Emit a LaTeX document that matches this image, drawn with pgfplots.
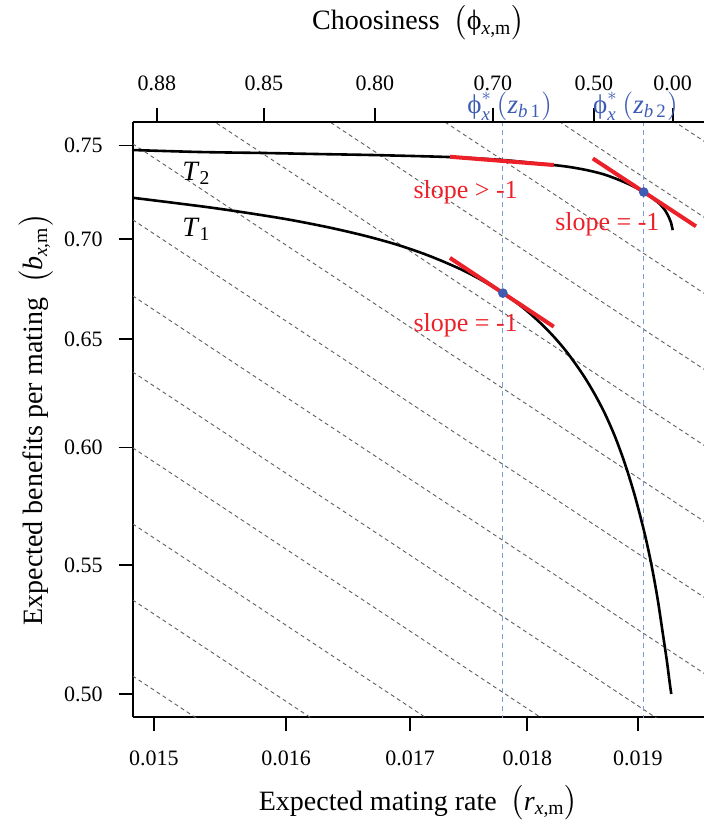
\documentclass[border=0pt]{standalone}
\usepackage{fontspec}
\setmainfont{Liberation Serif}
\usepackage{amsmath}
\usepackage{pgfplots}
\pgfplotsset{compat=1.18}

\definecolor{tanred}{RGB}{236,32,40}
\definecolor{ptblue}{RGB}{62,92,180}
\definecolor{lblue}{RGB}{125,155,220}
\definecolor{isogray}{RGB}{95,95,95}
\newcommand{\fs}[1]{\fontsize{#1}{#1}\selectfont}

\begin{document}
\begin{tikzpicture}
\useasboundingbox (-66.5pt,-54.5pt) rectangle (285.5pt,358.5pt);

% main axis: mating rate vs benefits, log-log
\begin{axis}[
  at={(0,0)}, anchor=south west,
  scale only axis, width=285.5pt, height=297.5pt,
  xmode=log, ymode=log,
  xmin=0.014847, xmax=0.019622, ymin=0.49157, ymax=0.76313,
  axis lines*=left,
  axis line style={line width=0.8pt},
  tick align=outside, major tick length=7.25pt,
  tick style={black, line width=0.8pt},
  xtick={0.015,0.016,0.017,0.018,0.019},
  xticklabels={0.015,0.016,0.017,0.018,0.019},
  ytick={0.5,0.55,0.6,0.65,0.7,0.75},
  yticklabels={0.50,0.55,0.60,0.65,0.70,0.75},
  minor xtick={}, minor ytick={},
  ticklabel style={font=\fs{11}, inner sep=0pt},
  xticklabel style={anchor=base, yshift=-17.25pt},
  yticklabel style={anchor=east, xshift=-7.75pt},
  xlabel={Expected mating rate\hspace{0.5em}$\big($\textit{r}\textsubscript{\textit{x},m}$\big)$},
  ylabel={Expected benefits per mating\hspace{0.5em}$\big($\textit{b}\textsubscript{\textit{x},m}$\big)$},
  xlabel style={at={(axis description cs:0.5,-0.1563)}, anchor=base, font=\fs{14}},
  ylabel style={at={(axis description cs:-0.1576,0.5)}, anchor=base, font=\fs{14}},
]

% iso-fitness lines r*b = const
\pgfplotsset{iso/.style={isogray, line width=0.45pt, dash pattern=on 2pt off 1.6pt}}
\addplot[iso] coordinates {(0.0145,0.51876) (0.0200,0.37610)};
\addplot[iso] coordinates {(0.0145,0.54876) (0.0200,0.39785)};
\addplot[iso] coordinates {(0.0145,0.58048) (0.0200,0.42085)};
\addplot[iso] coordinates {(0.0145,0.61407) (0.0200,0.44520)};
\addplot[iso] coordinates {(0.0145,0.64952) (0.0200,0.47090)};
\addplot[iso] coordinates {(0.0145,0.68710) (0.0200,0.49815)};
\addplot[iso] coordinates {(0.0145,0.72683) (0.0200,0.52695)};
\addplot[iso] coordinates {(0.0145,0.76883) (0.0200,0.55740)};
\addplot[iso] coordinates {(0.0145,0.81324) (0.0200,0.58960)};
\addplot[iso] coordinates {(0.0145,0.86028) (0.0200,0.62370)};
\addplot[iso] coordinates {(0.0145,0.91000) (0.0200,0.65975)};
\addplot[iso] coordinates {(0.0145,0.96262) (0.0200,0.69790)};
\addplot[iso] coordinates {(0.0145,1.01828) (0.0200,0.73825)};

% optimal choosiness
\addplot[lblue, line width=0.5pt, dash pattern=on 2.5pt off 2pt] coordinates {(0.017788,0.45) (0.017788,0.80)};
\addplot[lblue, line width=0.5pt, dash pattern=on 2.5pt off 2pt] coordinates {(0.019056,0.45) (0.019056,0.80)};

% T2
\addplot[black, line width=1.3pt, smooth] coordinates {
(0.014847,0.74750) (0.015341,0.74640) (0.015851,0.74584) (0.016267,0.74530)
(0.016726,0.74474) (0.017358,0.74364) (0.017788,0.74200) (0.018112,0.74008)
(0.018236,0.73926) (0.018379,0.73816) (0.018533,0.73653) (0.018678,0.73435)
(0.018806,0.73164) (0.018935,0.72841) (0.019056,0.72465) (0.019130,0.72170)
(0.019205,0.71825) (0.019252,0.71507) (0.019290,0.71138) (0.019309,0.70875)
(0.019328,0.70457)};

% T1
\addplot[black, line width=1.3pt, smooth] coordinates {
(0.014847,0.72158) (0.015118,0.71919) (0.015416,0.71642) (0.015720,0.71336)
(0.016030,0.70990) (0.016346,0.70585) (0.016628,0.70162) (0.016874,0.69729)
(0.017081,0.69305) (0.017249,0.68912) (0.017418,0.68462) (0.017546,0.68082)
(0.017675,0.67658) (0.017788,0.67251)
(0.017892,0.66835) (0.017980,0.66451) (0.018068,0.66030) (0.018156,0.65568)
(0.018245,0.65059) (0.018335,0.64496) (0.018424,0.63872) (0.018514,0.63179)
(0.018605,0.62409) (0.018696,0.61525) (0.018788,0.60488) (0.018880,0.59282)
(0.018972,0.57885) (0.019065,0.56261) (0.019130,0.54938) (0.019186,0.53614)
(0.019233,0.52341) (0.019271,0.51253) (0.019299,0.50419) (0.019313,0.50000)};

% tangents
\addplot[tanred, line width=2pt] coordinates {(0.017333,0.74381) (0.018236,0.73926)};
\addplot[tanred, line width=2pt] coordinates {(0.018587,0.74294) (0.019546,0.70649)};
\addplot[tanred, line width=2pt] coordinates {(0.017333,0.69019) (0.018236,0.65601)};

\addplot[only marks, mark=*, mark size=2.2pt, ptblue] coordinates {(0.017788,0.67251) (0.019056,0.72465)};

\node[anchor=base west, inner sep=0pt, font=\fs{14}] at (axis cs:0.015207,0.73111) {\textit{T}\textsubscript{2}};
\node[anchor=base west, inner sep=0pt, font=\fs{14}] at (axis cs:0.015207,0.70145) {\textit{T}\textsubscript{1}};

\node[anchor=base west, inner sep=0pt, font=\fs{13}, text=tanred] at (axis cs:0.017025,0.72128) {slope > -1};
\node[anchor=base west, inner sep=0pt, font=\fs{13}, text=tanred] at (axis cs:0.018245,0.70457) {slope = -1};
\node[anchor=base west, inner sep=0pt, font=\fs{13}, text=tanred] at (axis cs:0.017025,0.65355) {slope = -1};
\end{axis}

% top axis: choosiness
\begin{axis}[
  at={(0,0)}, anchor=south west,
  scale only axis, width=285.5pt, height=297.5pt,
  xmode=log, ymode=log,
  xmin=0.014847, xmax=0.019622, ymin=0.49157, ymax=0.76313,
  axis x line*=top, hide y axis, clip=false,
  axis line style={line width=0.8pt},
  tick align=outside, major tick length=7.25pt,
  tick style={black, line width=0.8pt},
  xtick={0.015022,0.015828,0.016710,0.017701,0.018596,0.019328},
  xticklabels={0.88,0.85,0.80,0.70,0.50,0.00},
  minor xtick={},
  ticklabel style={font=\fs{11}, inner sep=0pt},
  xticklabel style={anchor=base, yshift=8.75pt},
  xlabel={Choosiness\hspace{0.5em}$\big($ϕ\textsubscript{\textit{x},m}$\big)$},
  xlabel style={at={(axis description cs:0.5,1.155)}, anchor=base, font=\fs{14}},
]
\node[anchor=base west, inner sep=0pt, font=\fs{13.5}, text=ptblue] at (axis cs:0.017478,0.76823) {$\text{ϕ}^{*}_{\textit{x}}\,(\textit{z}_{\textit{b}\,\text{1}})$};
\node[anchor=base west, inner sep=0pt, font=\fs{13.5}, text=ptblue] at (axis cs:0.018587,0.76823) {$\text{ϕ}^{*}_{\textit{x}}\,(\textit{z}_{\textit{b}\,\text{2}})$};
\end{axis}
\end{tikzpicture}
\end{document}
